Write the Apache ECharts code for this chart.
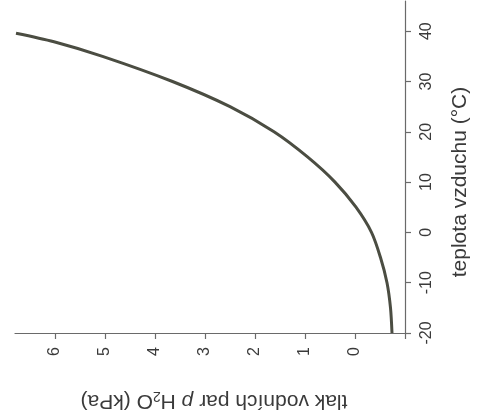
<!DOCTYPE html>
<html>
<head>
<meta charset="utf-8">
<script src="https://cdn.jsdelivr.net/npm/echarts@6/dist/echarts.min.js"></script>
<style>
html,body{margin:0;padding:0;background:#fff;}
#chart{width:479px;height:420px;}
</style>
</head>
<body>
<div id="chart"></div>
<script>
// Data (air temperature °C vs water vapour pressure kPa)
const temperatures = [-20, -15, -10, -5, 0, 5, 10, 15, 20, 25, 30, 35, 37.9, 39.6];
const pressures    = [-0.74, -0.71, -0.64, -0.51, -0.33, -0.02, 0.40, 0.95, 1.62, 2.50, 3.65, 5.05, 6.02, 6.78];
const pressureTickValues = [-1, 0, 1, 2, 3, 4, 5, 6];
const pressureLabels = [0, 1, 2, 3, 4, 5, 6];
const temperatureTicks = [-20, -10, 0, 10, 20, 30, 40];
const temperatureTitle = 'teplota vzduchu (°C)';
const pressureTitle = 'tlak vodních par {i|p} H{s|2}O (kPa)';

const FONT = "'Liberation Sans', Arial, sans-serif";
const TEXT = '#3a3a3a';
const AXIS = '#6a6a6a';

const chart = echarts.init(document.getElementById('chart'), null, {renderer: 'canvas'});
chart.setOption({
  animation: false,
  backgroundColor: '#fff',
  grid: {left: 15, right: 72, top: 1, bottom: 87, containLabel: false},
  xAxis: {
    type: 'value',
    inverse: true,
    position: 'bottom',
    min: -1, max: 6.8, interval: 1,
    splitLine: {show: false},
    axisLine: {show: true, onZero: false, lineStyle: {color: AXIS, width: 1.2}},
    axisTick: {show: true, length: 6, customValues: pressureTickValues, lineStyle: {color: AXIS, width: 1.2}},
    axisLabel: {
      show: true, rotate: 90, margin: 14, customValues: pressureLabels,
      color: TEXT, fontFamily: FONT, fontSize: 16
    },
    name: pressureTitle,
    nameLocation: 'middle',
    nameRotate: 180,
    nameGap: 56,
    nameTextStyle: {
      color: TEXT, fontFamily: FONT, fontSize: 21, padding: [0, 8, 0, 0],
      rich: {
        i: {fontStyle: 'italic', fontFamily: FONT, fontSize: 21, color: TEXT},
        s: {fontFamily: FONT, fontSize: 14, color: TEXT, padding: [10, 0, 0, 0]}
      }
    }
  },
  yAxis: {
    type: 'value',
    position: 'right',
    min: -20, max: 46, interval: 10,
    splitLine: {show: false},
    axisLine: {show: true, onZero: false, lineStyle: {color: AXIS, width: 1.2}},
    axisTick: {show: true, length: 6, customValues: temperatureTicks, lineStyle: {color: AXIS, width: 1.2}},
    axisLabel: {
      show: true, rotate: 90, margin: 14, customValues: temperatureTicks,
      color: TEXT, fontFamily: FONT, fontSize: 16
    },
    name: temperatureTitle,
    nameLocation: 'middle',
    nameRotate: 90,
    nameGap: 45,
    nameTextStyle: {color: TEXT, fontFamily: FONT, fontSize: 21, padding: [0, 30, 0, 0]}
  },
  series: [{
    type: 'line',
    data: pressures.map((p, i) => [p, temperatures[i]]),
    smooth: 0.3,
    showSymbol: false,
    lineStyle: {color: '#4b4d42', width: 3}
  }]
});
</script>
</body>
</html>
